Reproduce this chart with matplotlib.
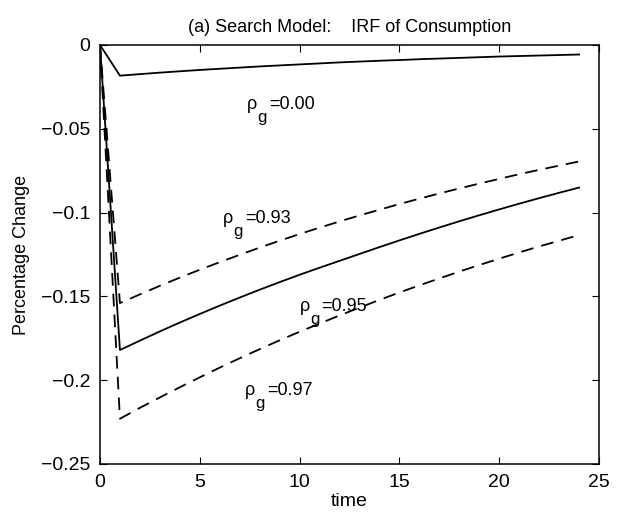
import matplotlib
matplotlib.use('Agg')
import matplotlib.pyplot as plt
from matplotlib.transforms import offset_copy

plt.rcParams['font.family'] = ['Liberation Sans', 'DejaVu Sans']

# time periods
time = list(range(25))

# impulse responses
irf_000 = [0.0, -0.0183, -0.0174, -0.0165, -0.0157, -0.0149, -0.0142, -0.0135,
           -0.0128, -0.0122, -0.0116, -0.0110, -0.0104, -0.0099, -0.0094, -0.0090,
           -0.0085, -0.0081, -0.0077, -0.0073, -0.0069, -0.0066, -0.0063, -0.0060,
           -0.0057]
irf_093 = [0.0, -0.1540, -0.1488, -0.1437, -0.1388, -0.1341, -0.1296, -0.1252,
           -0.1209, -0.1168, -0.1128, -0.1090, -0.1053, -0.1017, -0.0983, -0.0949,
           -0.0917, -0.0886, -0.0856, -0.0827, -0.0799, -0.0771, -0.0745, -0.0720,
           -0.0695]
irf_095 = [0.0, -0.1820, -0.1764, -0.1709, -0.1656, -0.1605, -0.1555, -0.1507,
           -0.1460, -0.1415, -0.1371, -0.1329, -0.1288, -0.1247, -0.1206, -0.1166,
           -0.1127, -0.1089, -0.1052, -0.1016, -0.0981, -0.0947, -0.0914, -0.0882,
           -0.0851]
irf_097 = [0.0, -0.2230, -0.2165, -0.2103, -0.2042, -0.1983, -0.1925, -0.1869,
           -0.1815, -0.1762, -0.1711, -0.1662, -0.1614, -0.1567, -0.1521, -0.1477,
           -0.1434, -0.1393, -0.1352, -0.1313, -0.1275, -0.1238, -0.1202, -0.1168,
           -0.1134]

rho_values = ['0.00', '0.93', '0.95', '0.97']
label_pos = [(7.35, -0.038), (6.15, -0.106), (10.0, -0.159), (7.25, -0.209)]

fig = plt.figure(figsize=(6.21, 5.31), dpi=100)
ax = fig.add_axes([0.161, 0.1262, 0.8036, 0.7891])

dash = (0, (7, 4.5))
ax.plot(time, irf_000, color='black', lw=1.3)
ax.plot(time, irf_093, color='black', lw=1.3, linestyle=dash)
ax.plot(time, irf_095, color='black', lw=1.3)
ax.plot(time, irf_097, color='black', lw=1.3, linestyle=dash)

# MATLAB-style labels: rho, a big low "g", then "=value"
sub_tr = offset_copy(ax.transData, fig=fig, x=11, y=-13, units='dots')
val_tr = offset_copy(ax.transData, fig=fig, x=22, y=0, units='dots')
for val, (x, y) in zip(rho_values, label_pos):
    ax.text(x, y, '\u03c1', fontsize=13)
    ax.text(x, y, 'g', fontsize=12, transform=sub_tr)
    ax.text(x, y, '=' + val, fontsize=13, transform=val_tr)

ax.set_xlim(0, 25)
ax.set_ylim(-0.25, 0)
ax.set_xticks([0, 5, 10, 15, 20, 25])
ax.set_yticks([-0.25, -0.2, -0.15, -0.1, -0.05, 0])
ax.set_yticklabels(['\u22120.25', '\u22120.2', '\u22120.15', '\u22120.1', '\u22120.05', '0'])
ax.tick_params(direction='in', top=True, right=True, length=5, labelsize=14, pad=7)
for s in ax.spines.values():
    s.set_linewidth(1.1)

ax.set_xlabel('time', fontsize=14, labelpad=2)
ax.set_ylabel('Percentage Change', fontsize=13, labelpad=8)
ax.set_title('(a) Search Model:    IRF of Consumption', fontsize=13, pad=9)

fig.savefig('out.png', dpi=100)
